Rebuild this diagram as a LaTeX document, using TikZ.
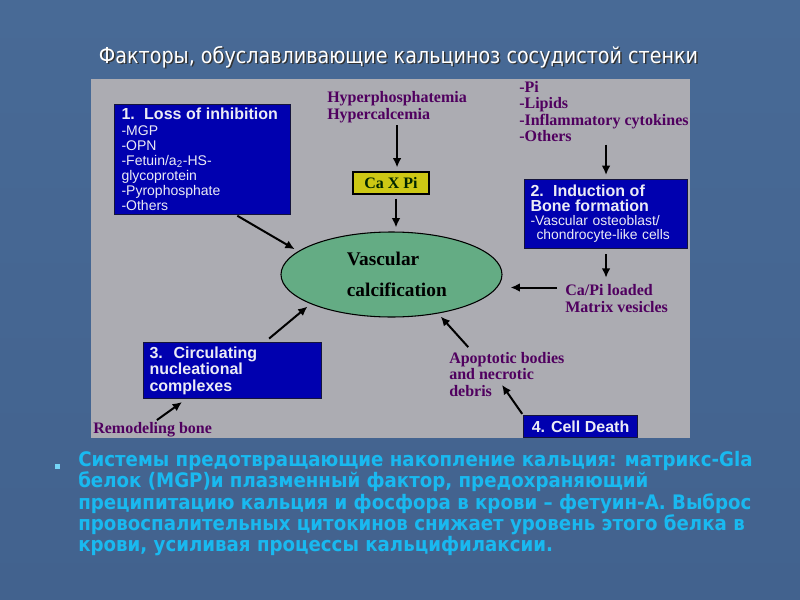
\documentclass[tikz,border=0pt]{standalone}
\usepackage{fontspec}
\setmainfont{Liberation Serif}
\setsansfont{Liberation Sans}
\newfontfamily\titlefont[FakeStretch=0.87]{DejaVu Sans}
\newfontfamily\bulletfont[FakeStretch=0.91]{DejaVu Sans}
\usetikzlibrary{shapes.geometric,arrows.meta,calc}
\definecolor{bgblue}{RGB}{72,106,150}
\definecolor{bgblue2}{RGB}{66,98,142}
\definecolor{panel}{RGB}{172,172,178}
\definecolor{boxblue}{RGB}{0,0,175}
\definecolor{boxedge}{RGB}{20,20,60}
\definecolor{ellgreen}{RGB}{100,172,132}
\definecolor{capyellow}{RGB}{205,200,20}
\definecolor{labpurple}{RGB}{80,0,95}
\definecolor{bulletcyan}{RGB}{25,185,240}
\definecolor{boxtext}{RGB}{235,235,245}
\begin{document}
\begin{tikzpicture}[x=0.75pt,y=-0.75pt,
  bluebox/.style={draw=boxedge,line width=0.8pt,fill=boxblue,text=boxtext,anchor=north west,align=left,font=\sffamily},
  lab/.style={text=labpurple,font=\fontsize{12}{12.3}\selectfont\bfseries,align=left,anchor=west,inner sep=0pt},
  arr/.style={line width=1.5pt,-{Latex[length=7pt,width=6.5pt]}},
]
\useasboundingbox (0,0) rectangle (800,600);
\shade[top color=bgblue,bottom color=bgblue2] (0,0) rectangle (800,600);
\fill[panel] (91,79) rectangle (690,438);

% title
\node[text=black!80,font=\titlefont\fontsize{16.5}{18}\selectfont] (titleshadow) at (400,58.5) {Факторы, обуславливающие кальциноз сосудистой стенки};
\node[text=white,font=\titlefont\fontsize{16.5}{18}\selectfont] (title) at (398.5,57) {Факторы, обуславливающие кальциноз сосудистой стенки};

% box 1
\node[bluebox,minimum width=132pt,minimum height=82.5pt,text width=121.5pt,inner xsep=5.25pt,inner ysep=2pt,
      font=\sffamily\fontsize{10.5}{11.25}\selectfont] (box1) at (114,104)
  {{\fontsize{12}{12}\selectfont\bfseries 1.\ \ Loss of inhibition}\\[0.6pt]
   -MGP\\ -OPN\\ -Fetuin/a\textsubscript{2}-HS-\\ glycoprotein\\ -Pyrophosphate\\ -Others};

% hyper labels
\node[lab] (hyper) at (327,107) {Hyperphosphatemia\\Hypercalcemia};
\node[draw=black,line width=0.8pt,fill=capyellow,minimum width=57pt,minimum height=16.5pt,inner sep=0pt,
      font=\fontsize{12}{12}\selectfont\bfseries,text=black!85!green] (caxpi) at (391,183) {Ca X Pi};

% ellipse
\node[ellipse,draw=black,line width=0.8pt,fill=ellgreen,minimum width=165.75pt,minimum height=63.75pt,
      align=left,font=\fontsize{14.5}{23}\selectfont\bfseries,inner sep=0pt] (vc) at (391.5,274.5)
  {\hspace*{8pt}Vascular\\\hspace*{8pt}calcification};

% right side
\node[lab] (pilist) at (519,111.5) {-Pi\\-Lipids\\-Inflammatory cytokines\\-Others};
\node[bluebox,minimum width=122.25pt,minimum height=51.75pt,text width=113.25pt,inner xsep=4.5pt,inner ysep=1pt,
      font=\sffamily\fontsize{10.4}{10.5}\selectfont] (box2) at (524,179)
  {{\fontsize{12}{12}\selectfont\bfseries 2.\ \ Induction of\\[0.2pt] Bone formation}\\[0.4pt]
   -Vascular osteoblast/\\ \hspace*{4.5pt}chondrocyte-like cells};
\node[lab] (mv) at (565,298.5) {Ca/Pi loaded\\Matrix vesicles};
\node[lab,font=\fontsize{12}{12.4}\selectfont\bfseries] (apop) at (449,374.5) {Apoptotic bodies\\and necrotic\\debris};
\node[bluebox,minimum width=85.5pt,minimum height=16.5pt,inner sep=0pt,align=center,
      font=\sffamily\fontsize{12}{12}\selectfont\bfseries] (box4) at (523,415) {4. Cell Death};

% left bottom
\node[bluebox,minimum width=133.5pt,minimum height=42pt,text width=124.5pt,inner xsep=4.5pt,inner ysep=1pt,
      font=\sffamily\fontsize{12}{12.4}\selectfont\bfseries] (box3) at (143,342)
  {3.\ \ Circulating\\ nucleational\\ complexes};
\node[lab] (remod) at (93,430) {Remodeling bone};

% arrows
\draw[arr,shorten <=2pt,shorten >=3pt] (hyper.south) -- (hyper.south |- caxpi.north);
\draw[arr,shorten <=3pt,shorten >=3pt] ([xshift=3.75pt]caxpi.south) -- ([xshift=3.75pt]caxpi.south |- vc.north);
\draw[arr,shorten <=1pt,shorten >=3pt] ($(box1.south west)!0.69!(box1.south east)$) -- (vc.166);
\draw[arr,shorten <=2pt,shorten >=3pt] (box2.north |- pilist.south) -- (box2.north);
\draw[arr,shorten <=4pt,shorten >=5pt] (box2.south) -- (box2.south |- mv.north);
\coordinate (mvstart) at ($(mv.west)+(-8,-11)$);
\draw[arr,shorten >=6pt] (mvstart) -- (vc.east |- mvstart);
\draw[arr,shorten <=2pt,shorten >=3pt] ($(apop.north west)+(21,-3)$) -- (vc.-40);
\draw[arr,shorten <=1pt] (box4.north west) -- ($(apop.south west)+(53,-12)$);
\draw[arr,shorten <=4pt,shorten >=3pt] ($(box3.north west)+(122,0)$) -- (vc.200);
\draw[arr,shorten <=3pt] ($(remod.north)+(1,0)$) -- ($(box3.south west)+(39,3)$);

% bullet text
\node[fill=bulletcyan!60!white,minimum size=3.75pt,inner sep=0pt] (bsq) at (57,466.5) {};
\node[anchor=west,align=left,inner sep=0pt,text=bulletcyan,
      font=\bulletfont\bfseries\fontsize{15}{13.9}\selectfont] (bullet) at (78,503.5)
  {Системы предотвращающие накопление кальция: матрикс-Gla\\
   белок (MGP)и плазменный фактор, предохраняющий\\
   преципитацию кальция и фосфора в крови – фетуин-А. Выброс\\
   провоспалительных цитокинов снижает уровень этого белка в\\
   крови, усиливая процессы кальцифилаксии.};
\end{tikzpicture}
\end{document}
